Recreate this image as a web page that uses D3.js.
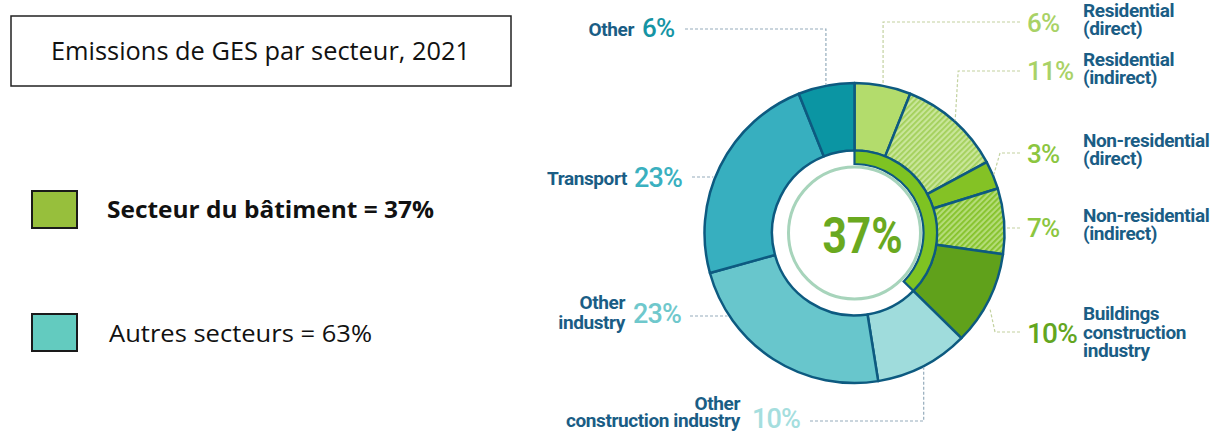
<!DOCTYPE html>
<html><head><meta charset="utf-8">
<script src="https://cdn.jsdelivr.net/npm/d3@7/dist/d3.min.js"></script>
<style>body{margin:0;background:#fff}svg{display:block}</style>
</head><body>
<script>
// ---- data ----
const categories = ["Residential (direct)","Residential (indirect)","Non-residential (direct)","Non-residential (indirect)","Buildings construction industry","Other construction industry","Other industry","Transport","Other"];
const shares = [6,11,3,7,10,10,23,23,6];
const sectorGroup = ["bat","bat","bat","bat","bat","other","other","other","other"];
const pctLabels = ["6%","11%","3%","7%","10%","10%","23%","23%","6%"];
const nameLines = [["Residential","(direct)"],["Residential","(indirect)"],["Non-residential","(direct)"],["Non-residential","(indirect)"],["Buildings","construction","industry"],["Other","construction industry"],["Other","industry"],["Transport"],["Other"]];
const buildingTotal = "37%";
const title = "Emissions de GES par secteur, 2021";
const legendLabels = ["Secteur du bâtiment = 37%","Autres secteurs = 63%"];

// ---- styles ----
const fills = ["#b3dc6c","url(#hatch1)","#84c225","url(#hatch2)","#60a11b","#9fdcdc","#68c6cc","#37afbf","#0b95a3"];
const pctColors = ["#a9d266","#a9d266","#8cc63f","#8cc63f","#63a61f","#a5dede","#6fc8cc","#3ab0bf","#1594a4"];
const W=1213,H=433, cx=854.5, cy=233, R=150, r0=82.5, rIn=69;

const svg=d3.select("body").append("svg").attr("width",W).attr("height",H);
const defs=svg.append("defs");
function hatch(id,base,stripe){
  const p=defs.append("pattern").attr("id",id).attr("patternUnits","userSpaceOnUse")
    .attr("width",4).attr("height",4).attr("patternTransform","rotate(45)");
  p.append("rect").attr("width",4).attr("height",4).attr("fill",base);
  p.append("rect").attr("width",1.8).attr("height",4).attr("fill",stripe);
}
hatch("hatch1","#c9e69a","#a3d05a");
hatch("hatch2","#b4dc78","#85c22a");

// ---- left panel ----
svg.append("rect").attr("x",11).attr("y",16).attr("width",500).attr("height",70)
  .attr("fill","#fff").attr("stroke","#222").attr("stroke-width",1.5);
svg.append("text").attr("x",51).attr("y",60).attr("font-family","Open Sans").attr("font-size",25)
  .attr("textLength",419).attr("lengthAdjust","spacingAndGlyphs").attr("fill","#111").text(title);
const legY=[191,314], legC=["#97bf3c","#63cbbf"], legX=[107,109], legW=[327,263], legB=[218,342];
legendLabels.forEach((t,i)=>{
  svg.append("rect").attr("x",32).attr("y",legY[i]).attr("width",45).attr("height",37)
    .attr("fill",legC[i]).attr("stroke","#1a1a1a").attr("stroke-width",2);
  svg.append("text").attr("x",legX[i]).attr("y",legB[i]).attr("font-family","Open Sans")
    .attr("font-size",24).attr("font-weight",i===0?700:400).attr("textLength",legW[i])
    .attr("lengthAdjust","spacingAndGlyphs").attr("fill","#111").text(t);
});

// ---- donut ----
const data=categories.map((c,i)=>({c,v:shares[i],g:sectorGroup[i],i}));
const pie=d3.pie().sort(null).value(d=>d.v);
const arcs=pie(data);
const arc=d3.arc().innerRadius(r0).outerRadius(R);
const g=svg.append("g").attr("transform",`translate(${cx},${cy})`);
g.selectAll("path.seg").data(arcs).join("path").attr("class","seg").attr("d",arc)
  .attr("fill",d=>fills[d.data.i]).attr("stroke","#0d5a80").attr("stroke-width",2.5).attr("stroke-linejoin","round");
// inner building band
const batEnd=d3.max(arcs.filter(a=>a.data.g==="bat"),a=>a.endAngle);
g.append("path").attr("d",d3.arc().innerRadius(rIn).outerRadius(r0)({startAngle:0,endAngle:batEnd}))
  .attr("fill","#7ec322").attr("stroke","#0d5a80").attr("stroke-width",2.2);
g.append("circle").attr("r",66).attr("fill","none").attr("stroke","#a7d4bb").attr("stroke-width",3);
g.append("text").attr("transform","translate(8,20) scale(0.85,1)").attr("text-anchor","middle")
  .attr("font-family","Roboto").attr("font-weight",700).attr("font-size",50).attr("fill","#6aa91f").text(buildingTotal);

// ---- labels & leaders (layout) ----
const lay=[
 {side:"R",pb:32,nb:[17,35],ly:22,type:"v",fs:26},
 {side:"R",pb:80,nb:[66,84],ly:71,type:"vx",dx:3,fs:26},
 {side:"R",pb:163,nb:[147,165],ly:153,type:"e",ex:1000,fs:26},
 {side:"R",pb:237,nb:[222,240],ly:228,type:"h",fs:26},
 {side:"R",pb:343,nb:[320,339,357],ly:332,type:"e",ex:995,fs:28},
 {side:"B",pb:428,nb:[410,427],ly:421,type:"v",fs:27,px:752,nx:740,lx:810},
 {side:"L",pb:323,nb:[309,329],ly:316,type:"h",fs:27,px:633,nx:625,lx:690},
 {side:"L",pb:187,nb:[185],ly:177,type:"h",fs:27,px:634,nx:627,lx:692},
 {side:"L",pb:37,nb:[36],ly:29,type:"v",fs:26,px:642,nx:634,lx:685}
];
const lab=svg.append("g");
arcs.forEach((a,k)=>{
  const L=lay[k], i=a.data.i;
  const green=a.data.g==="bat";
  const lc=green?"#c3d2a0":"#95acbc";
  const mid=(a.startAngle+a.endAngle)/2;
  const ax=cx+(R+1)*Math.sin(mid), ay=cy-(R+1)*Math.cos(mid);
  let pts;
  const startX = L.side==="R"?1020:L.lx;
  if(L.type==="h"){
    const dy=L.ly-cy, hx=Math.sqrt(R*R-dy*dy);
    pts=[[startX,L.ly],[L.side==="R"?cx+hx+2:cx-hx-2,L.ly]];
  } else if(L.type==="v"){
    pts=[[startX,L.ly],[ax,L.ly],[ax,ay]];
  } else if(L.type==="vx"){
    pts=[[startX,L.ly],[ax+L.dx,L.ly],[ax,ay]];
  } else {
    pts=[[startX,L.ly],[L.ex,L.ly],[ax,ay+(L.ex<997?8:0)]];
  }
  lab.append("path").attr("d",d3.line()(pts)).attr("fill","none").attr("stroke",lc)
    .attr("stroke-width",1.2).attr("stroke-dasharray","3,2");
  const px = L.side==="R"?1027:L.px;
  lab.append("text").attr("x",px).attr("y",L.pb).attr("font-family","Roboto").attr("font-weight",500)
    .attr("font-size",L.fs).attr("fill",pctColors[i]).attr("letter-spacing",-0.8).text(pctLabels[i]);
  nameLines[i].forEach((t,j)=>{
    lab.append("text").attr("x",L.side==="R"?1083:L.nx).attr("y",L.nb[j])
      .attr("text-anchor",L.side==="R"?"start":"end")
      .attr("font-family","Roboto").attr("font-weight",700).attr("font-size",19)
      .attr("letter-spacing",-0.4).attr("fill","#1a5d85").text(t);
  });
});
</script>
</body></html>
